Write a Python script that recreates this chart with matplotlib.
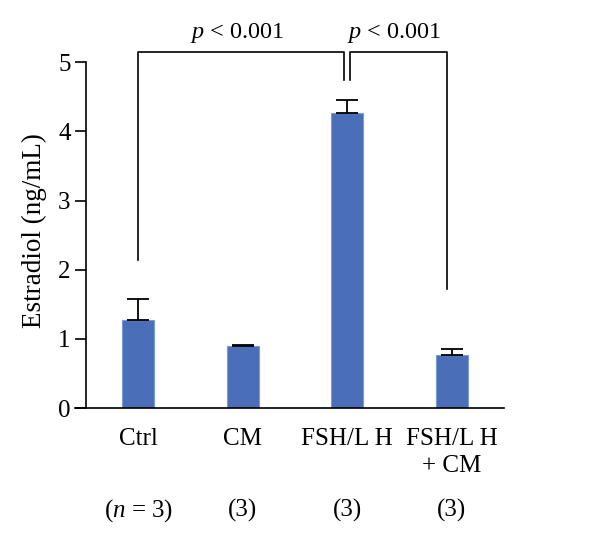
import matplotlib
matplotlib.use('Agg')
import matplotlib.pyplot as plt

# data
groups = ['Ctrl', 'CM', 'FSH/L H', 'FSH/L H\n+ CM']
n_labels = ['($n$ = 3)', '(3)', '(3)', '(3)']
estradiol = [1.28, 0.90, 4.26, 0.77]
sem = [0.29, 0.01, 0.19, 0.08]
p_text = ['$p$ < 0.001', '$p$ < 0.001']

plt.rcParams['font.family'] = ['Liberation Serif', 'DejaVu Serif']
plt.rcParams['mathtext.fontset'] = 'custom'
plt.rcParams['mathtext.it'] = 'Liberation Serif:italic'
plt.rcParams['mathtext.rm'] = 'Liberation Serif'

fig = plt.figure(figsize=(6, 5.42), dpi=100)
ax = fig.add_axes([0.125, 0.247, 0.715, 0.715])

x = list(range(len(groups)))
ax.bar(x, estradiol, width=0.31, color='#4A6FB8', edgecolor='#7C9AD2', linewidth=0.8,
       yerr=[[0] * len(sem), sem], capsize=8,
       error_kw=dict(ecolor='black', elinewidth=1.3, capthick=1.3))

ax.set_xlim(-0.605, 3.5)
ax.set_ylim(0, 5.6)
ax.spines['left'].set_position(('data', -0.5))
ax.spines['left'].set_bounds(0, 5)
ax.spines['top'].set_visible(False)
ax.spines['right'].set_visible(False)
for s in ['left', 'bottom']:
    ax.spines[s].set_linewidth(1.2)
ax.set_yticks([0, 1, 2, 3, 4, 5])
ax.tick_params(axis='y', direction='out', length=8, width=1.2, labelsize=18, pad=3)
ax.set_xticks(x)
ax.set_xticklabels(groups, fontsize=18, linespacing=1.3, va='top')
ax.tick_params(axis='x', length=0, pad=14)
ax.set_ylabel('Estradiol (ng/mL)', fontsize=19.5)
ax.yaxis.set_label_coords(-0.065, 0.457)

for xi, lab in zip(x, n_labels):
    ax.text(xi, -1.48, lab, ha='center', va='center', fontsize=18)

# significance brackets
lw = 1.2
top = 5.15
ax.plot([0, 0, 1.97, 1.97], [2.14, top, top, 4.74], color='black', lw=lw, clip_on=False)
ax.plot([2.03, 2.03, 2.95, 2.95], [4.74, top, top, 1.72], color='black', lw=lw, clip_on=False)
ax.text(0.95, 5.42, p_text[0], ha='center', va='center', fontsize=17.5)
ax.text(2.45, 5.42, p_text[1], ha='center', va='center', fontsize=17.5)

fig.savefig('out.png', dpi=100)
